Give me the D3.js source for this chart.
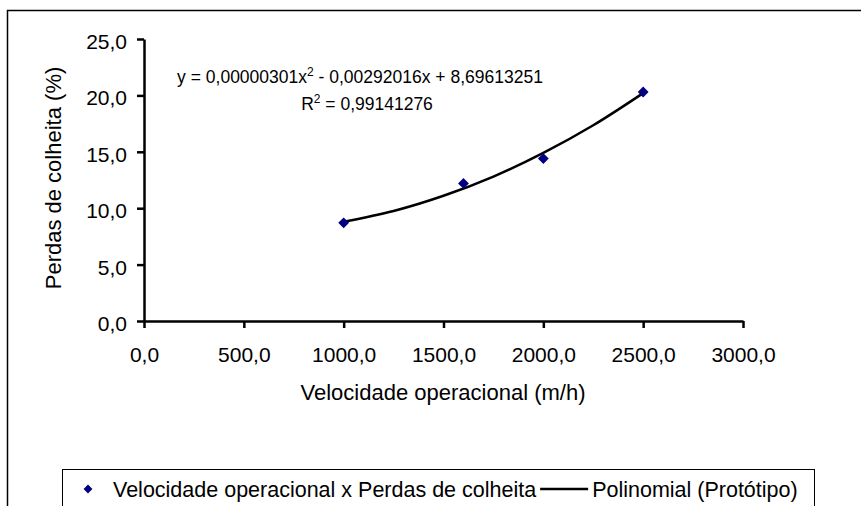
<!doctype html>
<html lang="pt">
<head>
<meta charset="UTF-8">
<title>Perdas de colheita x Velocidade operacional</title>
<script src="https://d3js.org/d3.v7.min.js"></script>
<style>
    body { margin: 0; background: #fff; }
    svg text { font-family: "Liberation Sans", Arial, sans-serif; fill: #000; }
</style>
</head>
<body>
<script>
    // data
    var velocidade = [1000, 1600, 2000, 2500];
    var perdas = [8.7, 12.2, 14.4, 20.3];
    // trendline (polinomial) points along the drawn curve
    var trendX = [1000, 1250, 1500, 1750, 2000, 2250, 2500];
    var trendY = [8.8, 9.75, 11.1, 12.8, 14.9, 17.35, 20.2];
    var xTicks = [0, 500, 1000, 1500, 2000, 2500, 3000];
    var yTicks = [0, 5, 10, 15, 20, 25];
    var equacao = "y = 0,00000301x";
    var equacao2 = " - 0,00292016x + 8,69613251";
    var r2 = "0,99141276";
    var xTitle = "Velocidade operacional (m/h)";
    var yTitle = "Perdas de colheita (%)";
    var legendSeries = "Velocidade operacional x Perdas de colheita";
    var legendTrend = "Polinomial (Protótipo)";

    var width = 861, height = 506;

    var svg = d3.select("body").append("svg")
        .attr("width", width)
        .attr("height", height);

    // outer chart frame (right/bottom fall outside the picture)
    svg.append("rect")
        .attr("x", 7.5).attr("y", 10.5)
        .attr("width", 900).attr("height", 600)
        .attr("fill", "none")
        .attr("stroke", "#000")
        .attr("stroke-width", 1.5);

    var x = d3.scaleLinear().domain([0, 3000]).range([144, 743]);
    var y = d3.scaleLinear().domain([0, 25]).range([321, 39]);
    var fmt = function(d) { return d3.format(".1f")(d).replace(".", ","); };

    var xAxis = svg.append("g")
        .attr("transform", "translate(0," + y(0) + ")")
        .call(d3.axisBottom(x).tickValues(xTicks).tickFormat(fmt).tickSizeInner(7).tickSizeOuter(0).tickPadding(19));

    var yAxis = svg.append("g")
        .attr("transform", "translate(" + x(0) + ",0)")
        .call(d3.axisLeft(y).tickValues(yTicks).tickFormat(fmt).tickSizeInner(7).tickSizeOuter(0).tickPadding(10));

    [xAxis, yAxis].forEach(function(a) {
        a.select(".domain").attr("stroke", "#000").attr("stroke-width", 2.5);
        a.selectAll(".tick line").attr("stroke", "#000").attr("stroke-width", 2.5);
        a.selectAll(".tick text")
            .style("font-family", "'Liberation Sans', Arial, sans-serif")
            .style("font-size", "21px");
    });
    yAxis.selectAll(".tick text").attr("dy", "0.45em");

    // axis titles
    svg.append("text")
        .attr("x", 443).attr("y", 400)
        .attr("text-anchor", "middle")
        .style("font-size", "22px")
        .text(xTitle);

    svg.append("text")
        .attr("transform", "translate(61,178) rotate(-90)")
        .attr("text-anchor", "middle")
        .style("font-size", "22px")
        .text(yTitle);

    // trendline
    var line = d3.line()
        .x(function(d, i) { return x(trendX[i]); })
        .y(function(d) { return y(d); })
        .curve(d3.curveMonotoneX);

    svg.append("path")
        .datum(trendY)
        .attr("d", line)
        .attr("fill", "none")
        .attr("stroke", "#000")
        .attr("stroke-width", 2.5);

    // data points
    var diamond = d3.symbol().type(d3.symbolDiamond2).size(75);
    svg.selectAll(".pt")
        .data(perdas)
        .enter()
        .append("path")
            .attr("class", "pt")
            .attr("d", diamond)
            .attr("transform", function(d, i) {
                return "translate(" + x(velocidade[i]) + "," + y(d) + ")";
            })
            .attr("fill", "#000080");

    // equation labels
    var eq = svg.append("text")
        .attr("x", 360).attr("y", 83)
        .attr("text-anchor", "middle")
        .style("font-size", "17.5px");
    eq.append("tspan").text(equacao);
    eq.append("tspan").attr("dy", -7).style("font-size", "12px").text("2");
    eq.append("tspan").attr("dy", 7).text(equacao2);

    var rt = svg.append("text")
        .attr("x", 367).attr("y", 110)
        .attr("text-anchor", "middle")
        .style("font-size", "17.5px");
    rt.append("tspan").text("R");
    rt.append("tspan").attr("dy", -7).style("font-size", "12px").text("2");
    rt.append("tspan").attr("dy", 7).text(" = " + r2);

    // legend
    var lg = svg.append("g");
    lg.append("rect")
        .attr("x", 62.5).attr("y", 469.5)
        .attr("width", 752).attr("height", 60)
        .attr("fill", "#fff")
        .attr("stroke", "#000")
        .attr("stroke-width", 1);

    lg.append("path")
        .attr("d", d3.symbol().type(d3.symbolDiamond2).size(50))
        .attr("transform", "translate(88,489)")
        .attr("fill", "#000080");

    var t1 = lg.append("text")
        .attr("x", 113).attr("y", 497)
        .style("font-size", "21.5px")
        .text(legendSeries);

    var w1 = t1.node().getComputedTextLength();
    lg.append("line")
        .attr("x1", 113 + w1 + 4).attr("x2", 113 + w1 + 52)
        .attr("y1", 489).attr("y2", 489)
        .attr("stroke", "#000")
        .attr("stroke-width", 2.5);

    lg.append("text")
        .attr("x", 113 + w1 + 56).attr("y", 497)
        .style("font-size", "21.5px")
        .text(legendTrend);
</script>
</body>
</html>
